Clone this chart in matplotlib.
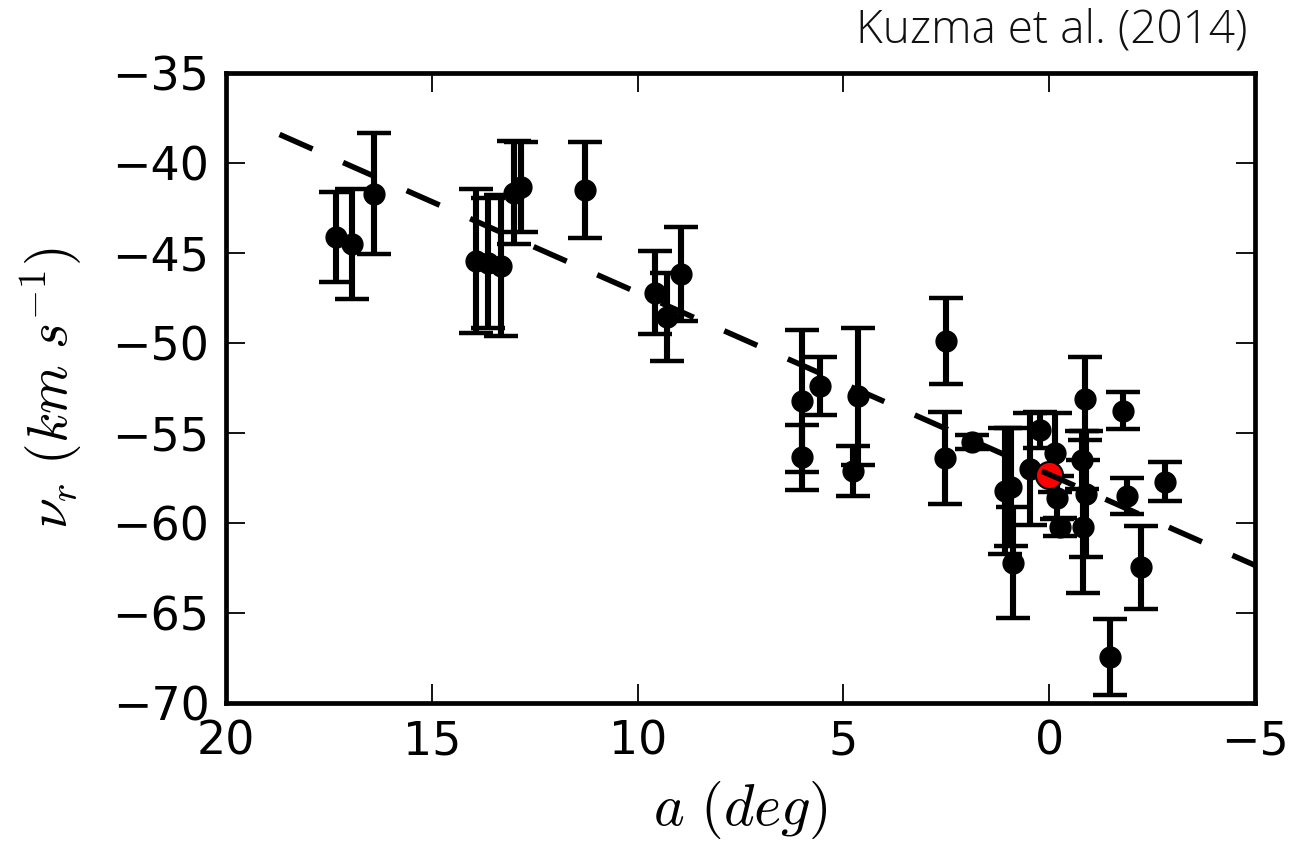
import numpy as np
import matplotlib
matplotlib.use('Agg')
import matplotlib.pyplot as plt

# angular distance (deg), radial velocity (km/s), error (km/s)
a_deg = [17.33, 16.94, 16.40, 13.93, 13.64, 13.32, 13.00, 12.83, 11.27,
         9.59, 9.28, 8.95, 6.01, 6.01, 5.57, 4.65, 4.76, 2.51, 2.53, 1.88,
         1.07, 0.92, 0.87, 0.47, 0.22, -0.14, -0.18, -0.26, -0.87, -0.80,
         -0.90, -0.83, -1.80, -1.88, -2.81, -2.22, -1.48]
v_r = [-44.1, -44.5, -41.7, -45.45, -45.55, -45.7, -41.65, -41.35, -41.5,
       -47.2, -48.55, -46.15, -53.2, -56.35, -52.4, -52.95, -57.1, -49.9, -56.4, -55.5,
       -58.2, -58.0, -62.2, -57.0, -54.85, -56.1, -58.6, -60.2, -53.1, -56.5,
       -58.4, -60.2, -53.75, -58.5, -57.7, -62.45, -67.45]
v_err = [2.5, 3.05, 3.35, 4.0, 3.6, 3.9, 2.85, 2.5, 2.67,
         2.3, 2.45, 2.6, 3.95, 1.8, 1.6, 3.8, 1.4, 2.4, 2.55, 0.4,
         3.5, 3.3, 3.1, 3.1, 1.0, 2.2, 1.2, 0.5, 2.3, 1.6,
         3.5, 3.7, 1.05, 1.0, 1.1, 2.3, 2.1]

# cluster centre
a_centre, v_centre = 0.0, -57.35

# linear fit drawn as dashed line
fit_a = [18.7, -5.0]
fit_slope, fit_icpt = 1.01, -57.3


def fit(x):
    return fit_slope * np.asarray(x) + fit_icpt


plt.rcParams['mathtext.fontset'] = 'cm'
plt.rcParams['font.family'] = 'DejaVu Sans'

fig = plt.figure(figsize=(13.15, 8.47), dpi=100)
ax = fig.add_axes([0.1719, 0.17, 0.7825, 0.7438])

ax.errorbar(a_deg, v_r, yerr=v_err, fmt='o', color='k', ms=15, mec='k',
            elinewidth=4.4, capsize=12, capthick=3.2, zorder=2)
ax.plot(a_centre, v_centre, 'o', color='red', ms=19.5, mec='k', mew=1.5, zorder=3)
ax.plot(fit_a, fit(fit_a), color='k', lw=4, dashes=(6.5, 6), zorder=4)

ax.set_xlim(20, -5)
ax.set_ylim(-70, -35)
ax.set_xticks([20, 15, 10, 5, 0, -5])
ax.set_yticks([-70, -65, -60, -55, -50, -45, -40, -35])

for s in ax.spines.values():
    s.set_linewidth(3.4)
ax.tick_params(direction='in', length=14, width=1.3, top=True, right=True,
               labelsize=33, pad=12)

ax.set_xlabel(r'$a\ (deg)$', fontsize=42, labelpad=10)
ax.set_ylabel(r'$\nu_r\ (km\ s^{-1})$', fontsize=40, labelpad=20)

fig.text(0.949, 1 - 42 / 847, 'Kuzma et al. (2014)', ha='right', va='baseline',
         fontsize=33, family='Open Sans', weight='light', color='#111111')

fig.savefig('out.png', dpi=100)
